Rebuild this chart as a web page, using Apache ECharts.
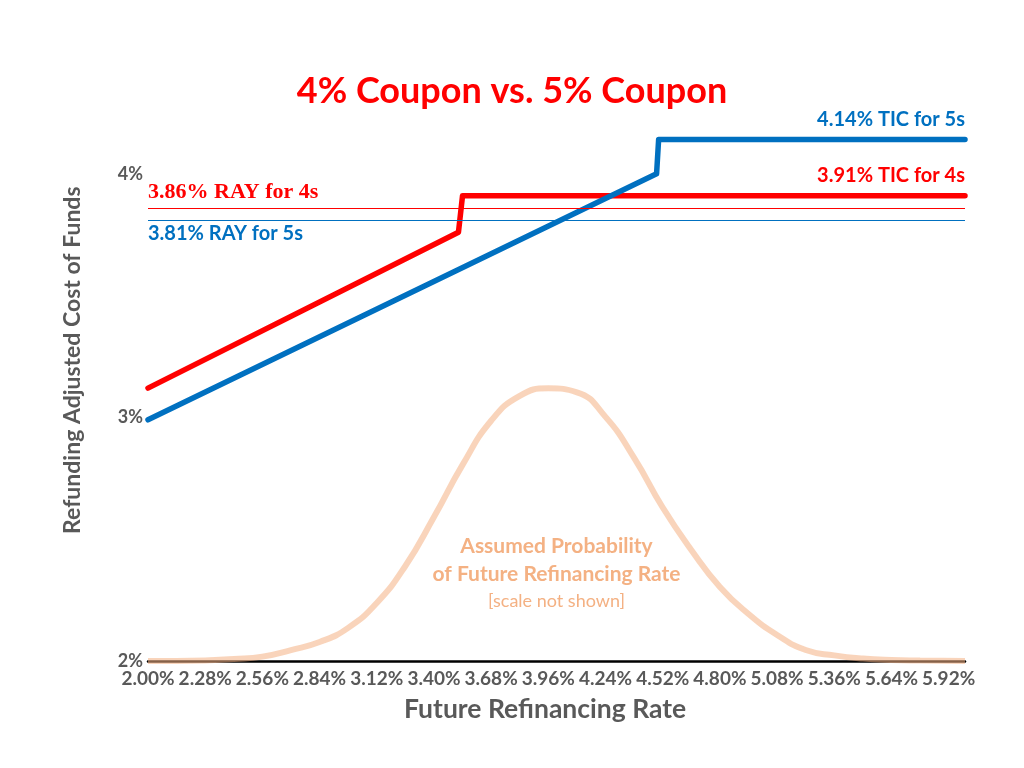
<!DOCTYPE html>
<html>
<head>
  <meta charset="utf-8">
  <title>4% Coupon vs. 5% Coupon</title>
  <script src="https://cdn.jsdelivr.net/npm/echarts@6.0.0/dist/echarts.min.js"></script>
  <style>
    html, body { margin: 0; padding: 0; background: #fff; }
    #main { width: 1024px; height: 768px; }
  </style>
</head>
<body>
  <div id="main"></div>
  <script>
  // x = future refinancing rate (%), y = refunding adjusted cost of funds (%)
  // axis runs 2.00 .. 6.00, labelled every 0.28
  var xTicks = [2.00, 2.28, 2.56, 2.84, 3.12, 3.40, 3.68, 3.96, 4.24, 4.52, 4.80, 5.08, 5.36, 5.64, 5.92];
  var yTicks = [2, 3, 4];

  // 4% coupon line
  var coupon4 = [[2.00, 3.12], [3.52, 3.76], [3.54, 3.91], [6.00, 3.91]];
  // 5% coupon line
  var coupon5 = [[2.00, 2.99], [4.49, 4.00], [4.50, 4.14], [6.00, 4.14]];

  var ray4 = 3.86, ray5 = 3.81;   // RAY levels
  var tic4 = 3.91, tic5 = 4.14;   // TIC levels

  // probability curve (scale not shown)
  var probX = [2.00, 2.14, 2.28, 2.42, 2.56, 2.70, 2.84, 2.98, 3.12, 3.26, 3.40, 3.54, 3.68, 3.82, 3.96,
               4.10, 4.24, 4.38, 4.52, 4.66, 4.80, 4.94, 5.08, 5.22, 5.36, 5.50, 5.64, 5.78, 6.00];
  var probY = [2.000, 2.000, 2.002, 2.008, 2.018, 2.045, 2.078, 2.136, 2.238, 2.390, 2.591, 2.805, 2.986, 3.088, 3.119,
               3.103, 3.002, 2.834, 2.630, 2.456, 2.304, 2.193, 2.107, 2.045, 2.023, 2.010, 2.004, 2.002, 2.000];

  var RED = '#ff0000', BLUE = '#0070c0', PEACH = '#f4b183', GREY = '#595959';

  var probData = [];
  for (var i = 0; i < probX.length; i++) {
    probData.push([probX[i], probY[i]]);
  }

  var chart = echarts.init(document.getElementById('main'));

  chart.setOption({
    animation: false,
    textStyle: { fontFamily: 'Lato' },
    title: {
      text: '4% Coupon vs. 5% Coupon',
      left: 'center',
      top: 68,
      textStyle: { color: RED, fontSize: 36, fontWeight: 'bold', fontFamily: 'Lato' }
    },
    grid: { left: 148, right: 59, top: 125, bottom: 107 },
    xAxis: {
      type: 'value',
      min: 2.00,
      max: 6.00,
      axisLine: { show: true, onZero: false, lineStyle: { color: '#000', width: 2.5 } },
      axisTick: { show: false },
      splitLine: { show: false },
      axisLabel: {
        customValues: xTicks,
        margin: 8,
        color: GREY,
        fontSize: 19,
        fontWeight: 'bold',
        fontFamily: 'Lato',
        formatter: function (v) { return v.toFixed(2) + '%'; }
      }
    },
    yAxis: {
      type: 'value',
      min: 2,
      max: 4.2,
      axisLine: { show: false },
      axisTick: { show: false },
      splitLine: { show: false },
      axisLabel: {
        customValues: yTicks,
        margin: 5,
        color: GREY,
        fontSize: 18,
        fontWeight: 'bold',
        fontFamily: 'Lato',
        formatter: function (v) { return v + '%'; }
      }
    },
    graphic: [
      {
        type: 'text',
        left: 404,
        top: 696,
        style: { text: 'Future Refinancing Rate', fill: GREY, font: 'bold 26.5px Lato' }
      },
      {
        type: 'text',
        x: 61,
        y: 534,
        rotation: Math.PI / 2,
        style: { text: 'Refunding Adjusted Cost of Funds', fill: GREY, font: 'bold 23px Lato' }
      }
    ],
    series: [
      {
        name: 'probability',
        type: 'line',
        smooth: 0.5,
        symbol: 'none',
        z: 1,
        data: probData,
        lineStyle: { color: PEACH, width: 6, opacity: 0.55 },
        markPoint: {
          symbol: 'circle',
          symbolSize: 0,
          data: [{
            coord: [4.00, 2.36],
            label: {
              show: true,
              position: 'inside',
              formatter: '{a|Assumed Probability}\n{a|of Future Refinancing Rate}\n{b|[scale not shown]}',
              rich: {
                a: { color: PEACH, fontSize: 21, fontWeight: 'bold', fontFamily: 'Lato', lineHeight: 28 },
                b: { color: PEACH, fontSize: 18, fontFamily: 'Lato', lineHeight: 27 }
              }
            }
          }]
        }
      },
      {
        name: 'RAY',
        type: 'line',
        data: [],
        z: 2,
        markLine: {
          symbol: 'none',
          silent: true,
          data: [
            {
              yAxis: ray4,
              lineStyle: { color: RED, width: 1.2, type: 'solid' },
              label: {
                show: true,
                position: 'insideStartTop',
                distance: [0, 5],
                formatter: ray4.toFixed(2) + '% RAY for 4s',
                color: RED, fontSize: 22, fontWeight: 'bold', fontFamily: 'Liberation Serif'
              }
            },
            {
              yAxis: ray5,
              lineStyle: { color: BLUE, width: 1.2, type: 'solid' },
              label: {
                show: true,
                position: 'insideStartBottom',
                distance: [0, 4],
                formatter: ray5.toFixed(2) + '% RAY for 5s',
                color: BLUE, fontSize: 20, fontWeight: 'bold', fontFamily: 'Lato'
              }
            }
          ]
        }
      },
      {
        name: '4% Coupon',
        type: 'line',
        symbol: 'none',
        z: 3,
        data: coupon4,
        lineStyle: { color: RED, width: 5.5, cap: 'round', join: 'round' },
        markPoint: {
          symbolSize: 0,
          data: [{
            coord: [6.00, tic4],
            label: {
              show: true, position: 'top', align: 'right', distance: 10,
              formatter: tic4.toFixed(2) + '% TIC for 4s',
              color: RED, fontSize: 20, fontWeight: 'bold', fontFamily: 'Lato'
            }
          }]
        }
      },
      {
        name: '5% Coupon',
        type: 'line',
        symbol: 'none',
        z: 4,
        data: coupon5,
        lineStyle: { color: BLUE, width: 5.5, cap: 'round', join: 'round' },
        markPoint: {
          symbolSize: 0,
          data: [{
            coord: [6.00, tic5],
            label: {
              show: true, position: 'top', align: 'right', distance: 10,
              formatter: tic5.toFixed(2) + '% TIC for 5s',
              color: BLUE, fontSize: 20, fontWeight: 'bold', fontFamily: 'Lato'
            }
          }]
        }
      }
    ]
  });
  </script>
</body>
</html>
